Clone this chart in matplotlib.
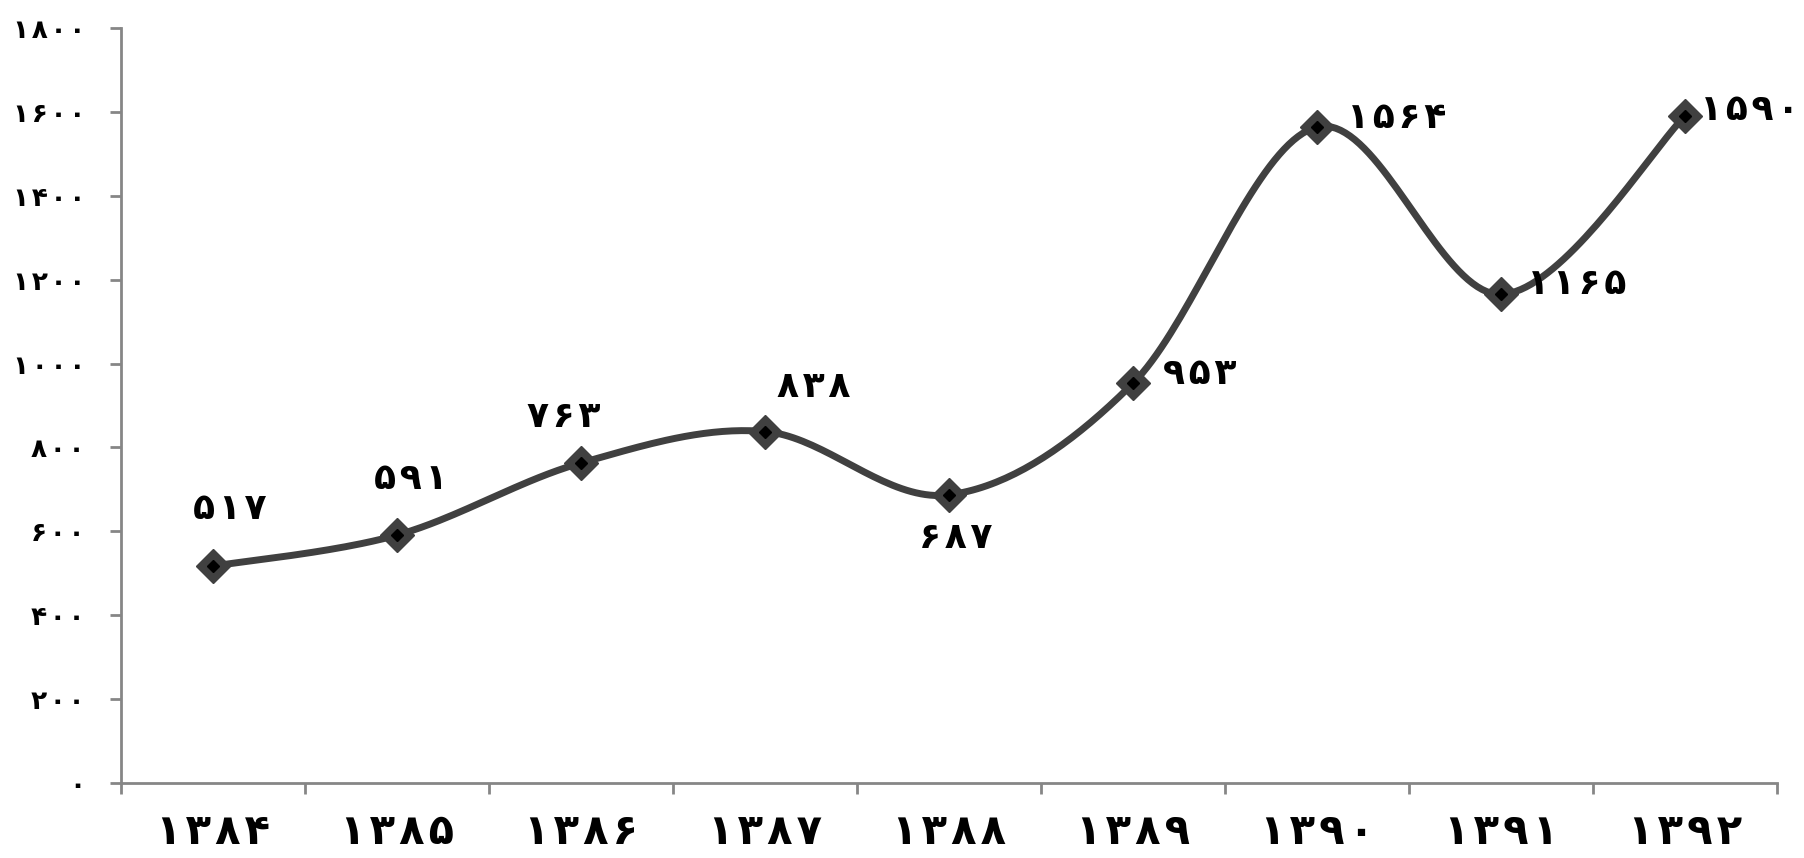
import matplotlib
matplotlib.use("Agg")
import matplotlib.pyplot as plt
import numpy as np

# data (Persian years / values)
years = ['۱۳۸۴', '۱۳۸۵', '۱۳۸۶', '۱۳۸۷', '۱۳۸۸', '۱۳۸۹', '۱۳۹۰', '۱۳۹۱', '۱۳۹۲']
values = [517, 591, 763, 838, 687, 953, 1564, 1165, 1590]
y_ticks = [0, 200, 400, 600, 800, 1000, 1200, 1400, 1600, 1800]

# label offsets in pixels (dx, dy) relative to each point
label_offsets = [(17, 57), (14, 56), (-17, 46), (49, 45), (7, -43),
                 (67, 9), (80, 9), (76, 10), (65, 6)]

FA_DIGITS = '۰۱۲۳۴۵۶۷۸۹'
SP = '\u200a'  # hair space, the original font spaces its digits wide


def fa(n):
    return SP.join(FA_DIGITS[int(c)] for c in str(n))


def spaced(s):
    return SP.join(s)


def smooth(x, y, steps=40):
    # excel-like smoothed line: cubic bezier with catmull-rom control points
    x = np.asarray(x, float)
    y = np.asarray(y, float)
    n = len(x)
    xs, ys = [], []
    t = np.linspace(0, 1, steps)
    for i in range(n - 1):
        p0 = np.array([x[max(i - 1, 0)], y[max(i - 1, 0)]])
        p1 = np.array([x[i], y[i]])
        p2 = np.array([x[i + 1], y[i + 1]])
        p3 = np.array([x[min(i + 2, n - 1)], y[min(i + 2, n - 1)]])
        c1 = p1 + (p2 - p0) / 6
        c2 = p2 - (p3 - p1) / 6
        for tt in t:
            b = ((1 - tt) ** 3) * p1 + 3 * ((1 - tt) ** 2) * tt * c1 \
                + 3 * (1 - tt) * tt ** 2 * c2 + tt ** 3 * p2
            xs.append(b[0])
            ys.append(b[1])
    return xs, ys


def main():
    plt.rcParams['font.family'] = ['DejaVu Sans']
    plt.rcParams['font.weight'] = 'bold'

    fig = plt.figure(figsize=(18.04, 8.58), dpi=100)
    ax = fig.add_axes([121 / 1804, 1 - 783 / 858, (1777 - 121) / 1804, (783 - 28) / 858])

    x = np.arange(1, len(values) + 1)
    sx, sy = smooth(x, values)
    ax.plot(sx, sy, color='#404040', lw=5, solid_capstyle='round', zorder=2)
    ax.plot(x, values, linestyle='none', marker='D', markersize=17,
            markerfacecolor='#404040', markeredgecolor='#404040', zorder=3)
    ax.plot(x, values, linestyle='none', marker='D', markersize=6,
            color='black', zorder=4)

    for xi, v, (dx, dy) in zip(x, values, label_offsets):
        ax.annotate(fa(v), (xi, v), xytext=(dx * 0.72, dy * 0.72),
                    textcoords='offset points', ha='center', va='center',
                    fontsize=26, fontweight='bold', color='black')

    ax.set_xlim(0.5, len(values) + 0.5)
    ax.set_ylim(0, 1800)

    ax.set_yticks(y_ticks)
    ax.set_yticklabels([fa(v) for v in y_ticks], fontsize=19, fontweight='bold')
    ax.set_xticks(x)
    ax.set_xticklabels([spaced(y) for y in years], fontsize=30, fontweight='bold')
    ax.set_xticks(np.arange(0.5, len(values) + 1.0, 1.0), minor=True)

    ax.tick_params(axis='x', which='major', length=0, pad=20)
    ax.tick_params(axis='x', which='minor', length=8, width=2, color='#868686')
    ax.tick_params(axis='y', length=8, width=2, color='#868686', pad=18)

    for side in ['top', 'right']:
        ax.spines[side].set_visible(False)
    for side in ['left', 'bottom']:
        ax.spines[side].set_color('#868686')
        ax.spines[side].set_linewidth(2)

    fig.savefig('out.png', dpi=100, facecolor='white')


if __name__ == "__main__":
    main()
